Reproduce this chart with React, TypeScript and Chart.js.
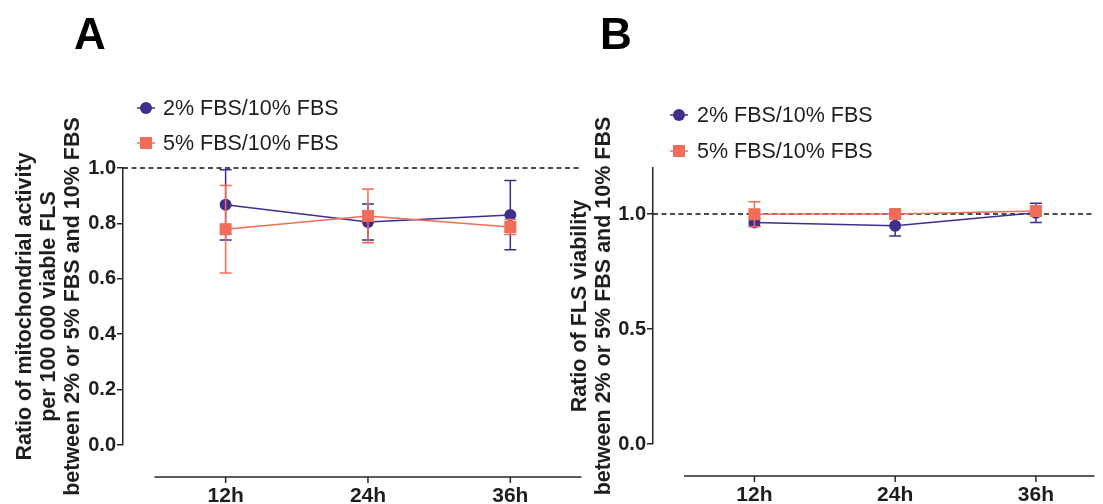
import React, { useEffect, useRef } from 'react';
import { Chart, registerables } from 'chart.js';

Chart.register(...registerables);

// ---------- data ----------
const hours = [12, 24, 36];
const xTickLabels = ['12h', '24h', '36h'];
const seriesLabels = ['2% FBS/10% FBS', '5% FBS/10% FBS'];

// Panel A: mitochondrial activity ratio
const mitoRatio2 = [0.867, 0.805, 0.83];
const mitoErr2 = [0.127, 0.065, 0.125];
const mitoRatio5 = [0.779, 0.827, 0.787];
const mitoErr5 = [0.158, 0.097, 0.027];

// Panel B: viability ratio
const viaRatio2 = [0.963, 0.949, 1.005];
const viaErr2 = [0.015, 0.045, 0.042];
const viaRatio5 = [0.999, 1.0, 1.013];
const viaErr5 = [0.054, 0.01, 0.02];

const yTicksA = [0, 0.2, 0.4, 0.6, 0.8, 1.0];
const yTicksB = [0, 0.5, 1.0];
const referenceLevel = 1.0;

const titleA = [
  'Ratio of mitochondrial activity',
  'per 100 000 viable FLS',
  'between 2% or 5% FBS and 10% FBS',
];
const titleB = ['Ratio of FLS viability', 'between 2% or 5% FBS and 10% FBS'];

// ---------- styles ----------
const PURPLE = '#402d8c';
const ORANGE = '#f26c5a';
const INK = '#1e1e1e';
const AXIS = '#262626';
const FONT = 'Arial, "Liberation Sans", sans-serif';

type PanelCfg = {
  key: string;
  letter: string;
  letterX: number;
  values: number[][];
  errors: number[][];
  yTicks: number[];
  yMax: number;
  xMin: number;
  xMax: number;
  axisStart: number;
  title: string[];
  padding: { left: number; top: number; right: number; bottom: number };
  yWidth: number;
  legendMarkerX: number;
  legendTextX: number;
  legendRows: number[];
  width: number;
};

function makePlugin(cfg: PanelCfg) {
  return {
    id: 'gp' + cfg.key,
    beforeDatasetsDraw(chart: any) {
      const { ctx, chartArea } = chart;
      const y = chart.scales.y.getPixelForValue(referenceLevel);
      ctx.save();
      ctx.strokeStyle = '#111';
      ctx.lineWidth = 1.3;
      ctx.setLineDash([5, 3.5]);
      ctx.beginPath();
      ctx.moveTo(chartArea.left, y);
      ctx.lineTo(chartArea.right, y);
      ctx.stroke();
      ctx.restore();
    },
    beforeDatasetDraw(chart: any, args: any) {
      const ds = chart.data.datasets[args.index];
      const err = cfg.errors[args.index];
      const xs = chart.scales.x;
      const ys = chart.scales.y;
      const ctx = chart.ctx;
      ctx.save();
      ctx.strokeStyle = ds.borderColor;
      ctx.lineWidth = 1.5;
      ds.data.forEach((pt: any, i: number) => {
        const px = xs.getPixelForValue(pt.x);
        const top = ys.getPixelForValue(pt.y + err[i]);
        const bot = ys.getPixelForValue(pt.y - err[i]);
        ctx.beginPath();
        ctx.moveTo(px, top);
        ctx.lineTo(px, bot);
        ctx.moveTo(px - 6, top);
        ctx.lineTo(px + 6, top);
        ctx.moveTo(px - 6, bot);
        ctx.lineTo(px + 6, bot);
        ctx.stroke();
      });
      ctx.restore();
    },
    afterDraw(chart: any) {
      const { ctx, chartArea } = chart;
      const xs = chart.scales.x;
      ctx.save();
      // detached x axis
      const axisY = chartArea.bottom + 32;
      ctx.strokeStyle = AXIS;
      ctx.lineWidth = 1.5;
      ctx.beginPath();
      ctx.moveTo(xs.getPixelForValue(cfg.axisStart), axisY);
      ctx.lineTo(chartArea.right, axisY);
      ctx.stroke();
      ctx.fillStyle = INK;
      ctx.font = `bold 21px ${FONT}`;
      ctx.textAlign = 'center';
      ctx.textBaseline = 'middle';
      hours.forEach((h, i) => {
        const px = xs.getPixelForValue(h);
        ctx.beginPath();
        ctx.moveTo(px, axisY);
        ctx.lineTo(px, axisY + 6);
        ctx.stroke();
        ctx.fillText(xTickLabels[i], px, axisY + 19);
      });
      // legend
      chart.data.datasets.forEach((ds: any, i: number) => {
        const ly = cfg.legendRows[i];
        const mx = cfg.legendMarkerX;
        ctx.strokeStyle = ds.borderColor;
        ctx.fillStyle = ds.borderColor;
        ctx.lineWidth = 1.5;
        ctx.beginPath();
        ctx.moveTo(mx - 9, ly);
        ctx.lineTo(mx + 9, ly);
        ctx.stroke();
        ctx.beginPath();
        if (ds.pointStyle === 'rect') {
          ctx.rect(mx - 6, ly - 6, 12, 12);
        } else {
          ctx.arc(mx, ly, 6, 0, Math.PI * 2);
        }
        ctx.fill();
        ctx.fillStyle = INK;
        ctx.font = `21.5px ${FONT}`;
        ctx.textAlign = 'left';
        ctx.textBaseline = 'middle';
        ctx.fillText(ds.label, cfg.legendTextX, ly + 1);
      });
      // panel letter
      ctx.fillStyle = '#000';
      ctx.font = `bold 44px ${FONT}`;
      ctx.textAlign = 'left';
      ctx.textBaseline = 'alphabetic';
      ctx.fillText(cfg.letter, cfg.letterX, 49);
      ctx.restore();
    },
  };
}

function Panel({ cfg, left }: { cfg: PanelCfg; left: number }) {
  const ref = useRef<HTMLCanvasElement | null>(null);
  useEffect(() => {
    if (!ref.current) return;
    const colors = [PURPLE, ORANGE];
    const styles = ['circle', 'rect'];
    const radii = [6, 8.5];
    const chart = new Chart(ref.current, {
      type: 'line',
      data: {
        datasets: cfg.values.map((vals, i) => ({
          label: seriesLabels[i],
          data: hours.map((h, j) => ({ x: h, y: vals[j] })),
          borderColor: colors[i],
          backgroundColor: colors[i],
          pointBackgroundColor: colors[i],
          pointBorderColor: colors[i],
          pointBorderWidth: 0,
          pointStyle: styles[i],
          pointRadius: radii[i],
          borderWidth: 1.5,
          tension: 0,
          clip: false,
          order: i === 0 ? 1 : 0,
        })),
      },
      options: {
        animation: false,
        responsive: false,
        events: [],
        layout: { padding: cfg.padding },
        plugins: {
          legend: { display: false },
          tooltip: { enabled: false },
          title: { display: false },
        },
        scales: {
          x: { type: 'linear', display: false, min: cfg.xMin, max: cfg.xMax },
          y: {
            type: 'linear',
            min: 0,
            max: cfg.yMax,
            afterBuildTicks: (s: any) => {
              s.ticks = cfg.yTicks.map((v) => ({ value: v }));
            },
            afterFit: (s: any) => {
              s.width = cfg.yWidth;
            },
            ticks: {
              color: INK,
              padding: 1,
              font: { family: FONT, size: 20, weight: 'bold' },
              callback: (v: any) => Number(v).toFixed(1),
            },
            grid: {
              display: true,
              drawOnChartArea: false,
              drawTicks: true,
              tickLength: 6,
              color: AXIS,
              lineWidth: 1.5,
            },
            border: { display: true, color: AXIS, width: 1.5 },
            title: {
              display: true,
              text: cfg.title,
              color: INK,
              padding: 0,
              font: { family: FONT, size: 21.5, weight: 'bold', lineHeight: 1.12 },
            },
          },
        },
      } as any,
      plugins: [makePlugin(cfg)],
    });
    return () => chart.destroy();
  }, [cfg]);
  return (
    <canvas
      ref={ref}
      width={cfg.width}
      height={504}
      style={{ position: 'absolute', left, top: 0, width: cfg.width, height: 504, display: 'block' }}
    />
  );
}

const panelA: PanelCfg = {
  key: 'A',
  letter: 'A',
  letterX: 74,
  values: [mitoRatio2, mitoRatio5],
  errors: [mitoErr2, mitoErr5],
  yTicks: yTicksA,
  yMax: 1.0,
  xMin: 3.35,
  xMax: 42,
  axisStart: 6,
  title: titleA,
  padding: { left: 13, top: 168, right: 5, bottom: 59 },
  yWidth: 110,
  legendMarkerX: 146,
  legendTextX: 163,
  legendRows: [108, 143],
  width: 590,
};

const panelB: PanelCfg = {
  key: 'B',
  letter: 'B',
  letterX: 40,
  values: [viaRatio2, viaRatio5],
  errors: [viaErr2, viaErr5],
  yTicks: yTicksB,
  yMax: 1.2,
  xMin: 3.35,
  xMax: 41.0,
  axisStart: 6,
  title: titleB,
  padding: { left: 8, top: 168, right: 0, bottom: 60 },
  yWidth: 85,
  legendMarkerX: 119,
  legendTextX: 137,
  legendRows: [115, 151],
  width: 543,
};

export default function App() {
  return (
    <div style={{ position: 'absolute', left: 0, top: 0, width: 1103, height: 504, background: '#fff', overflow: 'hidden' }}>
      <Panel cfg={panelA} left={0} />
      <Panel cfg={panelB} left={560} />
    </div>
  );
}
